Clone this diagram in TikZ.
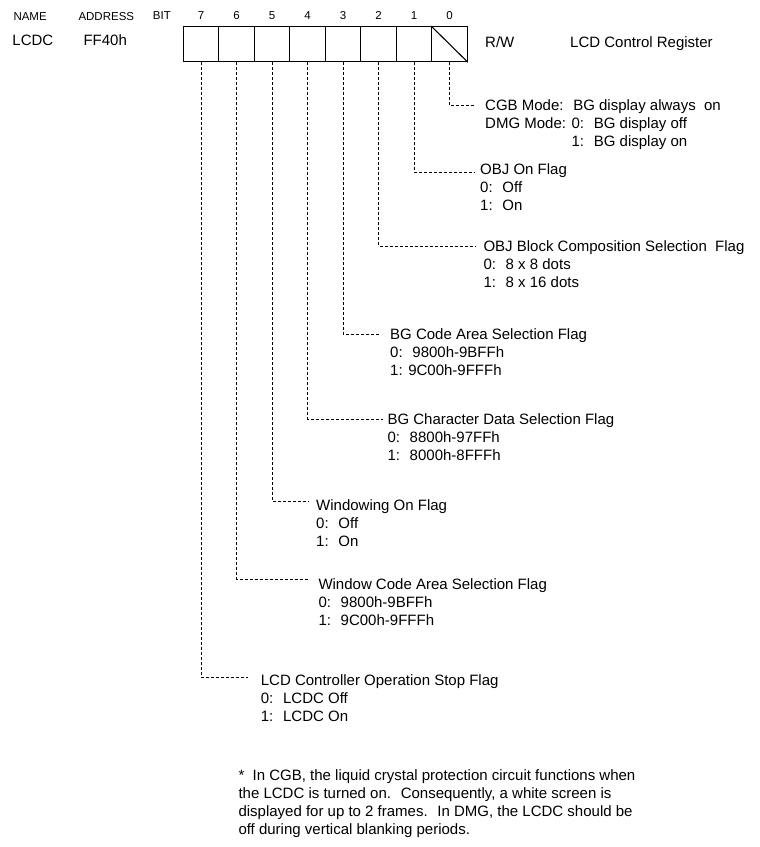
\documentclass[tikz,border=0pt]{standalone}
\usepackage{fontspec}
\setmainfont{Liberation Sans}
\begin{document}
\begin{tikzpicture}[x=1pt,y=-1pt,
  cell/.style={draw, line width=1.1pt, minimum width=35.5pt, minimum height=35pt, inner sep=0pt},
  hdr/.style={font=\fontsize{11.5}{13}\selectfont, inner sep=0pt, anchor=base west},
  reg/.style={font=\fontsize{15}{18}\selectfont, inner sep=0pt, anchor=base west},
  lbl/.style={font=\fontsize{15}{18}\selectfont, inner sep=0pt, anchor=base west, align=left},
  dl/.style={dashed, dash pattern=on 3pt off 2pt, line width=0.9pt}]
\useasboundingbox (0,0) rectangle (760,847);
% header
\node[hdr] (hname) at (13.3,20.7) {NAME};
\node[hdr] (haddr) at (78.3,20.7) {ADDRESS};
\node[hdr] (hbit) at (152.7,19) {BIT};
\node[reg] (lcdc) at (12.3,45.7) {LCDC};
\node[reg] (addr) at (83.3,45.7) {FF40h};
% cells
\foreach \i in {0,...,7} {
  \node[cell] (c\i) at ({467.3-35.5*\i-17.75},44.2) {};
  \node[hdr, anchor=base] (b\i) at ({467.3-35.5*\i-17.75},19) {\i};
}
\draw[line width=1.1pt] (c0.north west) -- (c0.south east);
\node[reg] (rw) at (485,47.3) {R/W};
\node[reg] (title) at (570,47.3) {LCD Control Register};
% connector ends
\coordinate (e0) at (475,105.7);
\coordinate (e1) at (475,172.3);
\coordinate (e2) at (475,246);
\coordinate (e3) at (380,334.3);
\coordinate (e4) at (383.3,419);
\coordinate (e5) at (309.3,501);
\coordinate (e6) at (309.3,579.3);
\coordinate (e7) at (248.3,677.3);
\foreach \i in {0,...,7} { \draw[dl] (c\i.south) |- (e\i); }
% labels (anchored at the baseline of the last line)
\node[lbl] (t0) at (485,146.2) {CGB Mode:~ BG display always~ on\\DMG Mode: 0:~ BG display off\\\phantom{DMG Mode: }1:~ BG display on};
\node[lbl] (t1) at (480,210.3) {OBJ On Flag\\0:~ Off\\1:~ On};
\node[lbl] (t2) at (483.3,287.7) {OBJ Block Composition Selection~ Flag\\0:~ 8 x 8 dots\\1:~ 8 x 16 dots};
\node[lbl] (t3) at (390,375) {BG Code Area Selection Flag\\0:~ 9800h-9BFFh\\1: 9C00h-9FFFh};
\node[lbl] (t4) at (387.3,460) {BG Character Data Selection Flag\\0:~ 8800h-97FFh\\1:~ 8000h-8FFFh};
\node[lbl] (t5) at (316,546.5) {Windowing On Flag\\0:~ Off\\1:~ On};
\node[lbl] (t6) at (318.3,625) {Window Code Area Selection Flag\\0:~ 9800h-9BFFh\\1:~ 9C00h-9FFFh};
\node[lbl] (t7) at (260.7,721) {LCD Controller Operation Stop Flag\\0:~ LCDC Off\\1:~ LCDC On};
\node[lbl] (note) at (238.3,834) {*~ In CGB, the liquid crystal protection circuit functions when\\the LCDC is turned on.~ Consequently, a white screen is\\displayed for up to 2 frames.~ In DMG, the LCDC should be\\off during vertical blanking periods.};
\end{tikzpicture}
\end{document}
